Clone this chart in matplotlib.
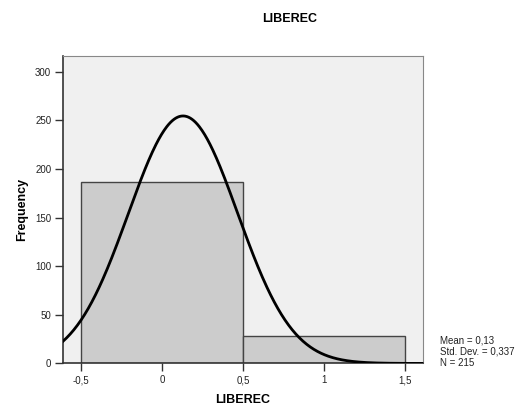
import numpy as np
import matplotlib
matplotlib.use("Agg")
import matplotlib.pyplot as plt

# Data
bin_edges = [-0.5, 0.5, 1.5]
counts = [187, 28]
mean = 0.13
std_dev = 0.337
n_total = 215
x_ticks = [-0.5, 0, 0.5, 1, 1.5]
x_tick_labels = ["-0,5", "0", "0,5", "1", "1,5"]
y_ticks = [0, 50, 100, 150, 200, 250, 300]

plt.rcParams['font.family'] = ['Liberation Sans', 'DejaVu Sans']

fig = plt.figure(figsize=(5.21, 4.13), dpi=100)
ax = fig.add_axes([0.121, 0.12, 0.691, 0.744])
ax.set_facecolor('#f0f0f0')

widths = np.diff(bin_edges)
ax.bar(bin_edges[:-1], counts, width=widths, align='edge',
       color='#cccccc', edgecolor='#444444', linewidth=1.0, zorder=2)

xs = np.linspace(-0.61, 1.61, 400)
bw = widths[0]
ys = n_total * bw / (std_dev * np.sqrt(2 * np.pi)) * np.exp(-0.5 * ((xs - mean) / std_dev) ** 2)
ax.plot(xs, ys, color='black', linewidth=2.0, zorder=3)

ax.set_xlim(-0.61, 1.61)
ax.set_ylim(0, 316)
ax.set_xticks(x_ticks)
ax.set_xticklabels(x_tick_labels)
ax.set_yticks(y_ticks)
ax.tick_params(axis='both', labelsize=7, length=6, width=1, pad=2.5,
               color='#333333', labelcolor='#222222')

for side in ['top', 'right']:
    ax.spines[side].set_color('#888888')
    ax.spines[side].set_linewidth(0.8)
for side in ['left', 'bottom']:
    ax.spines[side].set_color('#333333')
    ax.spines[side].set_linewidth(1.2)

ax.set_xlabel('LIBEREC', fontsize=9, fontweight='bold', labelpad=6)
ax.set_ylabel('Frequency', fontsize=9, fontweight='bold', labelpad=5)
fig.text(0.555, 0.955, 'LIBEREC', ha='center', va='center', fontsize=9, fontweight='bold')

fig.text(0.845, 0.148, 'Mean = 0,13\nStd. Dev. = 0,337\nN = 215', ha='left', va='center',
         fontsize=7, linespacing=1.2, color='#222222')

fig.savefig('out.png', dpi=100)
